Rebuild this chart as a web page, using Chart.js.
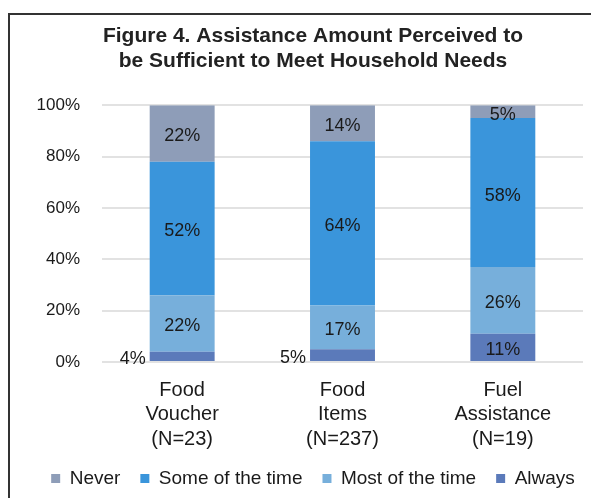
<!DOCTYPE html>
<html lang="en">
<head>
    <meta charset="UTF-8">
    <title>Assistance Amount Perceived to be Sufficient</title>
    <script src="https://cdn.jsdelivr.net/npm/chart.js"></script>
    <style>
        body {
            margin: 0;
            background: #ffffff;
            overflow: hidden;
        }

        .frame {
            position: absolute;
            left: 8px;
            top: 13px;
            right: -10px;
            bottom: -10px;
            border-top: 2px solid #333;
            border-left: 2px solid #333;
        }

        #chartAssistance {
            position: absolute;
            left: 0;
            top: 0;
        }
    </style>
</head>
<body>

    <div class="frame"></div>
    <canvas id="chartAssistance" width="620" height="498"></canvas>

    <script>
        // Categories (multi-line axis labels)
        const categories = [
            ["Food", "Voucher", "(N=23)"],
            ["Food", "Items", "(N=237)"],
            ["Fuel", "Assistance", "(N=19)"]
        ];

        // Share of respondents (%), bottom to top of each bar
        const always = [4, 5, 11];
        const mostOfTheTime = [22, 17, 26];
        const someOfTheTime = [52, 64, 58];
        const never = [22, 14, 5];

        const yTicks = [0, 20, 40, 60, 80, 100];

        const FONT = "'Liberation Sans', Arial, sans-serif";

        // Writes the percentage inside each segment; small "Always" values go left of the bar
        const segmentLabels = {
            id: "segmentLabels",
            afterDatasetsDraw(chart) {
                const ctx = chart.ctx;
                ctx.save();
                ctx.font = "18px " + FONT;
                ctx.fillStyle = "#1a1a1a";
                ctx.textBaseline = "middle";
                chart.data.datasets.forEach((ds, i) => {
                    const meta = chart.getDatasetMeta(i);
                    meta.data.forEach((bar, j) => {
                        const v = ds.data[j];
                        const p = bar.getProps(["x", "y", "base", "width"], true);
                        const cy = (p.y + p.base) / 2 + 3;
                        if (ds.label === "Always" && v < 8) {
                            ctx.textAlign = "right";
                            ctx.fillText(v + "%", p.x - p.width / 2 - 4, cy);
                        } else {
                            ctx.textAlign = "center";
                            ctx.fillText(v + "%", p.x, cy);
                        }
                    });
                });
                ctx.restore();
            }
        };

        const ctx = document.getElementById("chartAssistance").getContext("2d");
        new Chart(ctx, {
            type: "bar",
            data: {
                labels: categories,
                datasets: [
                    { label: "Always", data: always, backgroundColor: "#5b7aba" },
                    { label: "Most of the time", data: mostOfTheTime, backgroundColor: "#77afdb" },
                    { label: "Some of the time", data: someOfTheTime, backgroundColor: "#3a95db" },
                    { label: "Never", data: never, backgroundColor: "#8e9db8" }
                ]
            },
            options: {
                responsive: false,
                animation: false,
                layout: {
                    padding: { left: 6, right: 0, top: 0, bottom: 0 }
                },
                datasets: {
                    bar: { categoryPercentage: 1, barPercentage: 0.405 }
                },
                scales: {
                    x: {
                        stacked: true,
                        afterFit(scale) { scale.height = 87; },
                        grid: { display: false, drawTicks: false },
                        border: { display: false },
                        ticks: {
                            color: "#1a1a1a",
                            padding: 16,
                            maxRotation: 0,
                            font: { family: FONT, size: 20, lineHeight: 1.22 }
                        }
                    },
                    y: {
                        stacked: true,
                        min: 0,
                        max: 100,
                        afterFit(scale) { scale.width = 96; },
                        afterBuildTicks(scale) {
                            scale.ticks = yTicks.map(v => ({ value: v }));
                        },
                        grid: { color: "#e2e2e2", lineWidth: 2, drawTicks: false },
                        border: { display: false },
                        ticks: {
                            color: "#1a1a1a",
                            padding: 22,
                            font: { family: FONT, size: 17 },
                            callback: v => v + "%"
                        }
                    },
                    // empty margin on the right side of the plot
                    yRight: {
                        position: "right",
                        afterFit(scale) { scale.width = 37; },
                        grid: { display: false },
                        border: { display: false },
                        ticks: { display: false }
                    }
                },
                plugins: {
                    title: {
                        display: true,
                        text: ["Figure 4. Assistance Amount Perceived to", "be Sufficient to Meet Household Needs"],
                        color: "#222",
                        font: { family: FONT, size: 21, weight: "bold", lineHeight: 1.22 },
                        padding: { top: 23, bottom: 31 }
                    },
                    legend: {
                        position: "bottom",
                        reverse: true,
                        labels: {
                            color: "#1a1a1a",
                            boxWidth: 9,
                            boxHeight: 9,
                            padding: 20,
                            font: { family: FONT, size: 19 }
                        }
                    },
                    tooltip: { enabled: false }
                }
            },
            plugins: [segmentLabels]
        });
    </script>

</body>
</html>
